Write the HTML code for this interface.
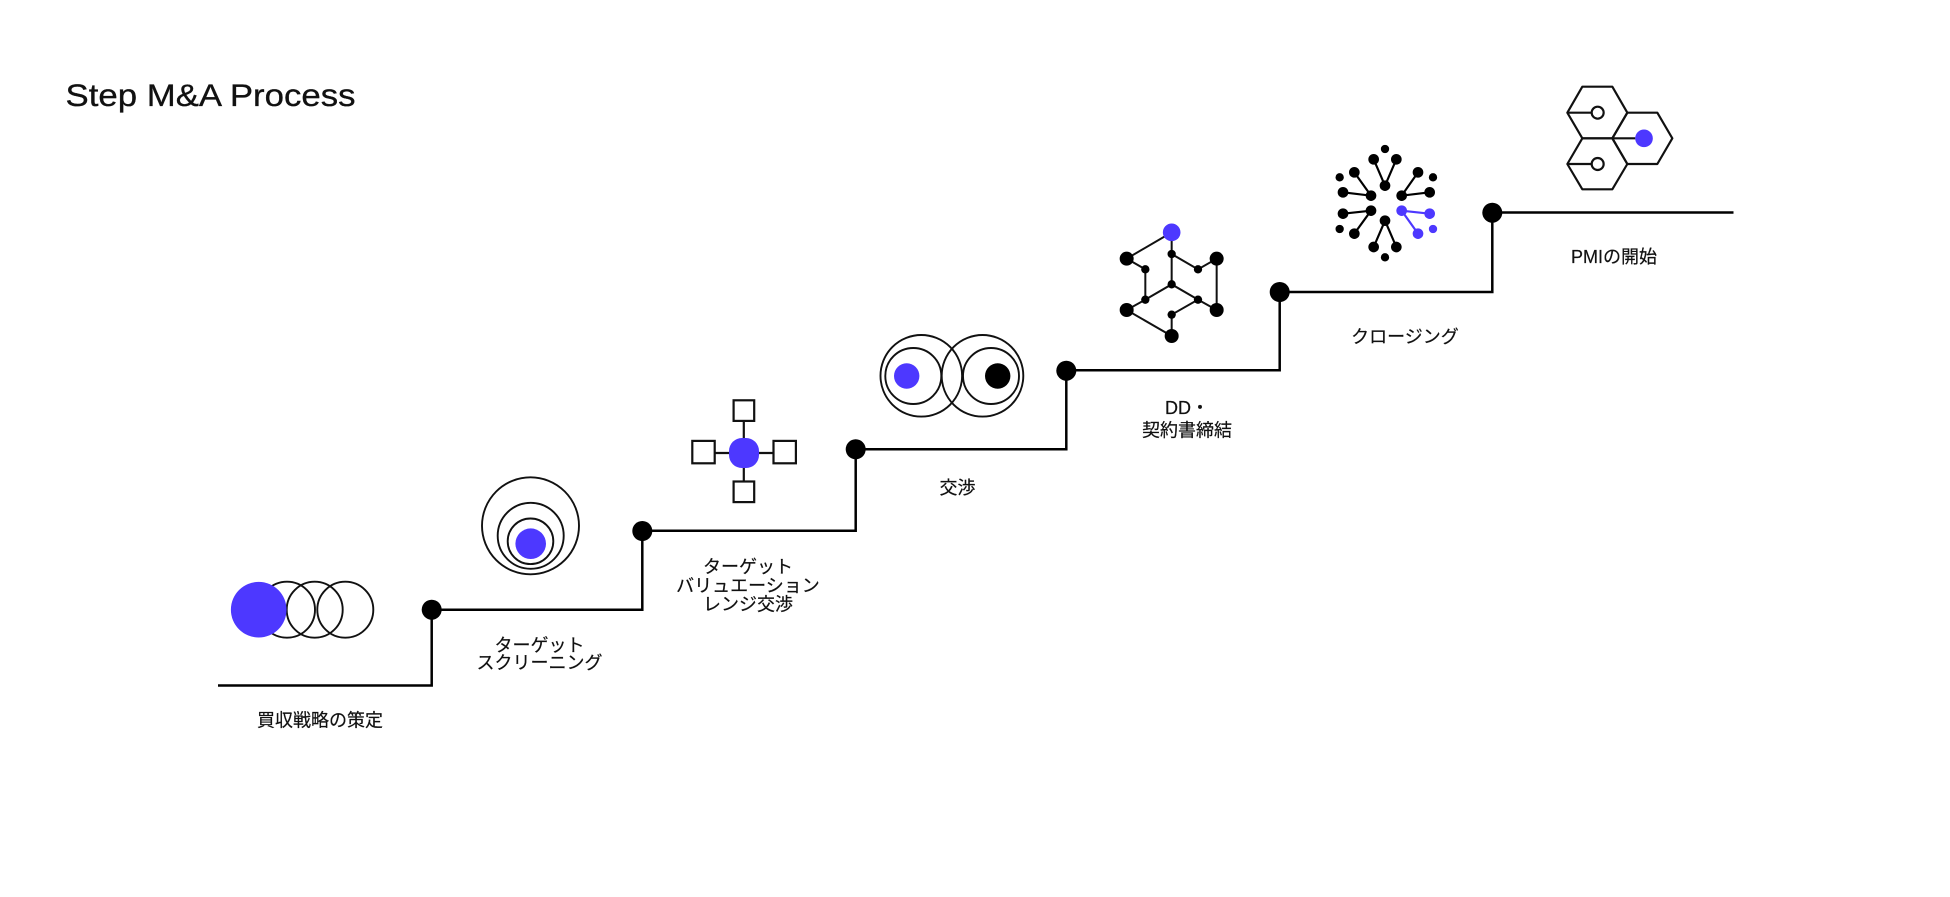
<!DOCTYPE html>
<html lang="ja">
<head>
<meta charset="utf-8">
<title>Step M&amp;A Process</title>
<style>
html,body{margin:0;padding:0;background:#fff;width:1950px;height:897px;overflow:hidden}
svg{display:block}
.l{font-family:"Liberation Sans","Noto Sans CJK JP",sans-serif;font-size:18px;fill:#111;stroke:#111;stroke-width:.2;text-anchor:middle}
.t{font-family:"Liberation Sans",sans-serif;font-size:31.5px;fill:#111;stroke:#111;stroke-width:.3}
.o{fill:none;stroke:#111;stroke-width:1.9}
</style>
</head>
<body>
<svg width="1950" height="897" viewBox="0 0 1950 897" xmlns="http://www.w3.org/2000/svg">
<rect width="1950" height="897" fill="#fff"/>
<text class="t" x="65.5" y="106" textLength="290" lengthAdjust="spacingAndGlyphs">Step M&amp;A Process</text>

<!-- stair -->
<polyline fill="none" stroke="#000" stroke-width="2.5" points="218,685.5 431.7,685.5 431.7,609.7 642.3,609.7 642.3,530.7 855.7,530.7 855.7,449.3 1066.3,449.3 1066.3,370.2 1279.7,370.2 1279.7,292 1492.3,292 1492.3,212.5 1733.5,212.5"/>
<g fill="#000">
<circle cx="431.7" cy="609.7" r="10"/>
<circle cx="642.3" cy="531" r="10"/>
<circle cx="855.7" cy="449.3" r="10"/>
<circle cx="1066.3" cy="370.7" r="10"/>
<circle cx="1279.7" cy="292" r="10"/>
<circle cx="1492.3" cy="212.7" r="10"/>
</g>

<!-- icon 1 -->
<g class="o">
<circle cx="287" cy="609.7" r="28"/>
<circle cx="314.7" cy="609.7" r="28"/>
<circle cx="345.3" cy="609.7" r="28"/>
</g>
<circle cx="258.7" cy="609.7" r="27.8" fill="#4d38ff"/>

<!-- icon 2 -->
<g class="o">
<circle cx="530.5" cy="525.8" r="48.5"/>
<circle cx="530.7" cy="535.8" r="33"/>
<circle cx="530.5" cy="541.3" r="22.8"/>
</g>
<circle cx="530.7" cy="543.7" r="15.3" fill="#4d38ff"/>

<!-- icon 3 -->
<g fill="#fff" stroke="#111" stroke-width="2.2">
<line x1="743.8" y1="420" x2="743.8" y2="482"/>
<line x1="714" y1="453" x2="774" y2="453"/>
<rect x="733.6" y="400.3" width="20.6" height="20.6"/>
<rect x="692.3" y="440.9" width="22.4" height="22.4"/>
<rect x="773.5" y="440.9" width="22.4" height="22.4"/>
<rect x="733.6" y="481.5" width="20.6" height="20.6"/>
</g>
<rect x="729" y="438" width="30" height="30" rx="13" fill="#4d38ff"/>

<!-- icon 4 -->
<g class="o">
<circle cx="921.3" cy="375.8" r="40.8"/>
<circle cx="982.5" cy="375.8" r="40.8"/>
<circle cx="913.3" cy="376" r="28"/>
<circle cx="991" cy="376" r="28"/>
</g>
<circle cx="906.7" cy="376" r="12.7" fill="#4d38ff"/>
<circle cx="997.7" cy="376" r="12.7" fill="#000"/>

<!-- icon 5 -->
<g transform="translate(1100,220) scale(0.33333)">
<g fill="none" stroke="#111" stroke-width="6">
<path d="M215,37 L80,116 L136,148 L136,239 L80,270 L215,348 L215,284 L294,239 L350,270 L350,116 L294,148 L215,102 Z"/>
<path d="M215,102 L215,193 M136,239 L215,193 L294,239"/>
</g>
<g fill="#000">
<circle cx="80" cy="116" r="21"/><circle cx="350" cy="116" r="21"/>
<circle cx="80" cy="270" r="21"/><circle cx="350" cy="270" r="21"/>
<circle cx="215" cy="348" r="21"/>
<circle cx="215" cy="102" r="12.5"/><circle cx="136" cy="148" r="12.5"/><circle cx="294" cy="148" r="12.5"/>
<circle cx="215" cy="193" r="12.5"/><circle cx="136" cy="239" r="12.5"/><circle cx="294" cy="239" r="12.5"/>
<circle cx="215" cy="284" r="12.5"/>
</g>
<circle cx="215" cy="37" r="26.5" fill="#4d38ff"/>
</g>

<!-- icon 6 -->
<g transform="translate(1320,130) scale(0.33333)">
<g fill="none" stroke="#000" stroke-width="6.5">
<path d="M161,88 L195,167 L229,88"/>
<path d="M103,127 L153,197 L69,187"/>
<path d="M294,127 L245,197 L329,187"/>
<path d="M103,311 L153,242 L69,251"/>
<path d="M161,351 L195,272 L229,351"/>
</g>
<path d="M294,311 L245,242 L329,251" fill="none" stroke="#4d38ff" stroke-width="6.5"/>
<g fill="#000">
<circle cx="195" cy="57" r="12.5"/><circle cx="161" cy="88" r="16"/><circle cx="229" cy="88" r="16"/><circle cx="195" cy="167" r="16"/>
<circle cx="59" cy="142" r="12.5"/><circle cx="103" cy="127" r="16"/><circle cx="69" cy="187" r="16"/><circle cx="153" cy="197" r="16"/>
<circle cx="339" cy="142" r="12.5"/><circle cx="294" cy="127" r="16"/><circle cx="329" cy="187" r="16"/><circle cx="245" cy="197" r="16"/>
<circle cx="59" cy="297" r="12.5"/><circle cx="103" cy="311" r="16"/><circle cx="69" cy="251" r="16"/><circle cx="153" cy="242" r="16"/>
<circle cx="195" cy="382" r="12.5"/><circle cx="161" cy="351" r="16"/><circle cx="229" cy="351" r="16"/><circle cx="195" cy="272" r="16"/>
</g>
<g fill="#4d38ff">
<circle cx="339" cy="297" r="12.5"/><circle cx="294" cy="311" r="16"/><circle cx="329" cy="251" r="16"/><circle cx="245" cy="242" r="16"/>
</g>
</g>

<!-- icon 7 -->
<g transform="translate(1550,70) scale(0.33333)">
<g fill="none" stroke="#111" stroke-width="6.5" stroke-linejoin="round">
<path d="M97,50 L187,50 L232,128 L187,205 L97,205 L52,128 Z"/>
<path d="M232,128 L322,128 L367,205 L322,282 L232,282 L187,205 Z"/>
<path d="M97,205 L187,205 L232,282 L187,358 L97,358 L52,282 Z"/>
<path d="M52,128 L125,128 M52,282 L125,282 M187,205 L256,205"/>
<circle cx="143" cy="128" r="18" fill="#fff"/>
<circle cx="143" cy="282" r="18" fill="#fff"/>
</g>
<circle cx="282" cy="205" r="26.5" fill="#4d38ff"/>
</g>

<!-- labels -->
<text class="l" x="320" y="726.5">買収戦略の策定</text>
<text class="l" x="539.5" y="651.5">ターゲット</text>
<text class="l" x="539.5" y="669">スクリーニング</text>
<text class="l" x="748" y="573">ターゲット</text>
<text class="l" x="748" y="592">バリュエーション</text>
<text class="l" x="748" y="610.5">レンジ交渉</text>
<text class="l" x="957.5" y="494">交渉</text>
<text class="l" x="1187" y="414">DD・</text>
<text class="l" x="1187" y="436.5">契約書締結</text>
<text class="l" x="1405" y="343">クロージング</text>
<text class="l" x="1614" y="263">PMIの開始</text>
</svg>
</body>
</html>
